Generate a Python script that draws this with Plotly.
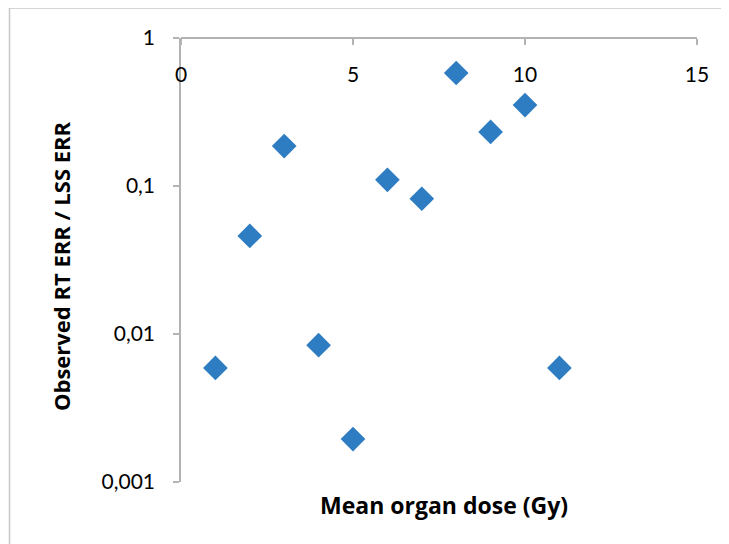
import plotly.graph_objects as go

dose_gy = [1, 2, 3, 4, 5, 6, 7, 8, 9, 10, 11]
err_ratio = [0.0059, 0.046, 0.186, 0.0084, 0.00195, 0.11, 0.082, 0.58, 0.232, 0.352, 0.0059]

y_tickvals = [0.001, 0.01, 0.1, 1]
y_ticktext = ["0,001", "0,01", "0,1", "1"]
x_tickvals = [0, 5, 10, 15]

# page body has an 8px margin; work in figure coordinates
OFF = 8
W, H = 729 - OFF, 544 - OFF
L, R, T, B = 181 - OFF, 729 - 697, 38 - OFF, 544 - 482
pw, ph = W - L - R, H - T - B

axis_col = "#B3B3B3"
font_fam = "Lato, 'Open Sans', sans-serif"
title_fam = "'Open Sans', Lato, sans-serif"

fig = go.Figure()
fig.add_trace(go.Scatter(
    x=dose_gy, y=err_ratio, mode="markers",
    marker=dict(symbol="diamond", size=19, color="#2E7DC2", line=dict(width=0)),
    showlegend=False, hoverinfo="x+y",
))

def py(page_y):
    return (H - B - (page_y - OFF)) / ph

def px(page_x):
    return (page_x - OFF - L) / pw

fig.update_layout(
    width=W, height=H,
    margin=dict(l=L, r=R, t=T, b=B),
    paper_bgcolor="white", plot_bgcolor="white",
    separators=",.",
    font=dict(family=font_fam, size=21, color="#000000"),
    xaxis=dict(
        range=[0, 15], tickvals=x_tickvals, ticktext=[str(v) for v in x_tickvals],
        anchor="free", position=1, side="bottom",
        showline=True, linecolor=axis_col, linewidth=1.5,
        ticks="outside", ticklen=6, tickcolor=axis_col, tickwidth=1.5,
        ticklabelstandoff=12,
        showgrid=False, zeroline=False,
    ),
    yaxis=dict(
        type="log", range=[-3, 0], tickvals=y_tickvals, ticktext=y_ticktext,
        showline=True, linecolor=axis_col, linewidth=1.5,
        ticks="outside", ticklen=6, tickcolor=axis_col, tickwidth=1.5,
        ticklabelstandoff=14,
        showgrid=False, zeroline=False,
    ),
    shapes=[dict(
        type="rect", xref="paper", yref="paper",
        x0=px(9.5), x1=px(760), y0=py(580), y1=py(8),
        line=dict(color="#C8C8C8", width=1.5), fillcolor="rgba(0,0,0,0)", layer="below",
    )],
    annotations=[
        dict(text="<b>Mean organ dose (Gy)</b>", xref="paper", yref="paper",
             x=px(444), y=py(505), xanchor="center", yanchor="middle",
             showarrow=False, font=dict(size=23, family=title_fam)),
        dict(text="<b>Observed RT ERR / LSS ERR</b>", xref="paper", yref="paper",
             x=px(61), y=py(266), xanchor="center", yanchor="middle", textangle=-90,
             showarrow=False, font=dict(size=22, family=title_fam)),
    ],
)

fig.write_html("out.html")
